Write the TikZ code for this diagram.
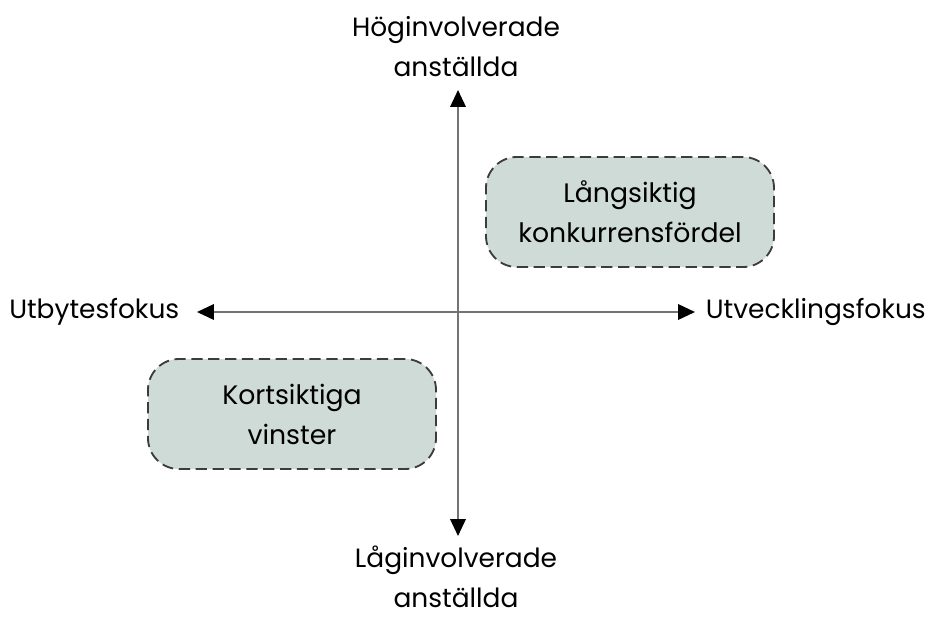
\documentclass[tikz,border=0pt]{standalone}
\usepackage{fontspec}
\setmainfont{Poppins}
\usetikzlibrary{arrows.meta}

\definecolor{boxfill}{RGB}{207,219,215}
\definecolor{boxline}{RGB}{60,60,60}

\tikzset{
  tip/.tip={Triangle[length=12pt,width=11pt,color=black]},
  axis/.style={tip-tip, draw=black!55, line width=1.3pt},
  label/.style={font=\fontsize{18.8}{28.5}\selectfont, align=center, inner sep=0pt},
  quadrant/.style={draw=boxline, fill=boxfill, dashed, dash pattern=on 8pt off 4pt,
    line width=1.3pt, rounded corners=22pt, minimum width=288*0.025cm,
    minimum height=110*0.025cm, align=center, font=\fontsize{19}{28.5}\selectfont}
}

\begin{document}
\begin{tikzpicture}[x=0.025cm, y=-0.025cm]

  \useasboundingbox (0,0) rectangle (928,619);

  % Axis ends
  \coordinate (top)    at (458,90);
  \coordinate (bottom) at (458,536);
  \coordinate (left)   at (197,312);
  \coordinate (right)  at (695,312);

  % Axis labels
  \node[label] (hog)  at (456,47)  {Höginvolverade\\anställda};
  \node[label] (lag)  at (456,577) {Låginvolverade\\anställda};
  \node[label, anchor=west] (utb) at (9,312)  {Utbytesfokus};
  \node[label, anchor=east] (utv) at (926,312) {Utvecklingsfokus};

  % Quadrants
  \node[quadrant] (lang) at (630,212) {Långsiktig\\konkurrensfördel};
  \node[quadrant] (kort) at (292,414) {Kortsiktiga\\vinster};

  % Arrows
  \draw[axis] (bottom) -- (top);
  \draw[axis] (left) -- (right);

\end{tikzpicture}
\end{document}
